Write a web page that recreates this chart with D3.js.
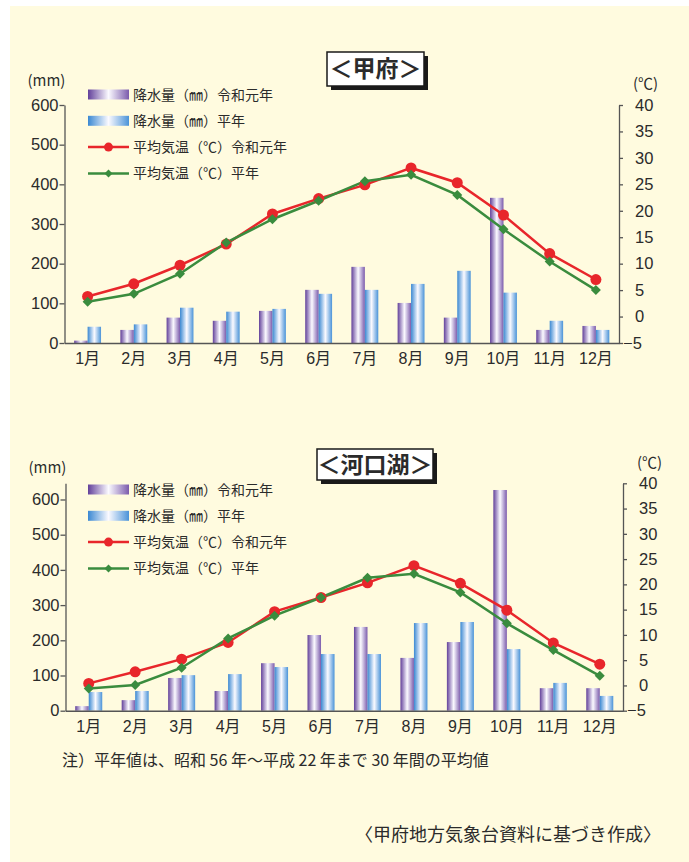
<!DOCTYPE html>
<html>
<head>
<meta charset="utf-8">
<script src="https://cdn.jsdelivr.net/npm/d3@7"></script>
<style>
  body { margin: 0; background: #fff; }
  svg { display: block; }
  .tick text { font-family: "Liberation Sans", Arial, "Noto Sans CJK JP", sans-serif; fill: #2b2b2b; }
  .jp { font-family: "Noto Sans CJK JP", sans-serif; fill: #2b2b2b; }
</style>
</head>
<body>
<div id="chart"></div>
<script>
// months & legend
const months = ["1月", "2月", "3月", "4月", "5月", "6月", "7月", "8月", "9月", "10月", "11月", "12月"];
const legendLabels = ["降水量（㎜）令和元年", "降水量（㎜）平年", "平均気温（℃）令和元年", "平均気温（℃）平年"];

// 甲府
const kofuRain2019 = [6, 33, 64, 56, 81, 134, 192, 101, 64, 366, 33, 43];
const kofuRainNormal = [41, 47, 89, 79, 86, 124, 134, 149, 182, 127, 56, 33];
const kofuTemp2019 = [3.8, 6.2, 9.7, 13.7, 19.4, 22.3, 24.9, 28.1, 25.3, 19.2, 11.9, 7.0];
const kofuTempNormal = [2.8, 4.3, 8.1, 14.0, 18.4, 21.9, 25.6, 26.8, 23.0, 16.5, 10.4, 5.0];

// 河口湖
const kawaRain2019 = [13, 30, 93, 56, 135, 215, 238, 150, 195, 627, 64, 64];
const kawaRainNormal = [53, 56, 101, 104, 124, 161, 161, 249, 252, 175, 79, 42];
const kawaTemp2019 = [0.4, 2.7, 5.2, 8.5, 14.6, 17.4, 20.3, 23.7, 20.2, 14.9, 8.4, 4.2];
const kawaTempNormal = [-0.6, 0.1, 3.5, 9.3, 13.8, 17.4, 21.3, 22.1, 18.4, 12.3, 7.0, 1.9];

// ticks
const rainTicks = [0, 100, 200, 300, 400, 500, 600];
const tempTicks = [-5, 0, 5, 10, 15, 20, 25, 30, 35, 40];

const noteText = "注）平年値は、昭和 56 年～平成 22 年まで 30 年間の平均値";
const sourceText = "〈甲府地方気象台資料に基づき作成〉";

const width = 689, height = 862;
const red = "#e8262b", green = "#3a8c3e";

const svg = d3.select("#chart")
  .append("svg")
  .attr("width", width)
  .attr("height", height)
  .attr("viewBox", [0, 0, width, height]);

svg.append("rect")
  .attr("x", 10).attr("y", 6)
  .attr("width", width - 10).attr("height", height - 6)
  .attr("fill", "#fffbdf");

// gradients for the bars
const defs = svg.append("defs");
function grad(id, c1, c2) {
  const g = defs.append("linearGradient").attr("id", id)
    .attr("x1", "0%").attr("x2", "100%").attr("y1", "0%").attr("y2", "0%");
  g.append("stop").attr("offset", "0%").attr("stop-color", c1);
  g.append("stop").attr("offset", "50%").attr("stop-color", "#fbfaff");
  g.append("stop").attr("offset", "100%").attr("stop-color", c2);
}
grad("purple", "#62409a", "#7b5bac");
grad("blue", "#3a88d2", "#4a93d8");

function diamond(sel, cx, cy, r) {
  sel.append("path")
    .attr("d", `M${cx},${cy - r}L${cx + r},${cy}L${cx},${cy + r}L${cx - r},${cy}Z`)
    .attr("fill", green);
}

function drawChart(cfg) {
  const g = svg.append("g");

  let x = d3.scaleBand()
    .domain(months)
    .range([cfg.left, cfg.right]);

  let xSub = d3.scaleBand()
    .domain(["r", "n"])
    .range([0, x.bandwidth()])
    .paddingOuter(0.72);

  let yRain = d3.scaleLinear()
    .domain([0, cfg.rainMax])
    .range([cfg.bottom, cfg.top]);

  let yTemp = d3.scaleLinear()
    .domain([-5, 40])
    .range([cfg.bottom, cfg.top]);

  // title box
  g.append("rect")
    .attr("x", cfg.titleX - cfg.titleW / 2 + 4).attr("y", cfg.titleY - cfg.titleH / 2 + 4)
    .attr("width", cfg.titleW).attr("height", cfg.titleH)
    .attr("fill", "#1a1a1a");
  g.append("rect")
    .attr("x", cfg.titleX - cfg.titleW / 2).attr("y", cfg.titleY - cfg.titleH / 2)
    .attr("width", cfg.titleW).attr("height", cfg.titleH)
    .attr("fill", "#fff").attr("stroke", "#1a1a1a").attr("stroke-width", 1.5);
  g.append("text")
    .attr("class", "jp")
    .attr("x", cfg.titleX).attr("y", cfg.titleY)
    .attr("dy", "0.36em")
    .attr("text-anchor", "middle")
    .attr("font-size", 23).attr("font-weight", 700)
    .text(cfg.title);

  // bars
  const rows = months.map((m, i) => ({ m, r: cfg.rain[i], n: cfg.rainNormal[i] }));
  g.append("g")
    .selectAll("rect.r")
    .data(rows)
    .join("rect")
    .attr("x", d => x(d.m) + xSub("r"))
    .attr("y", d => yRain(d.r))
    .attr("width", xSub.bandwidth())
    .attr("height", d => yRain(0) - yRain(d.r))
    .attr("fill", "url(#purple)");
  g.append("g")
    .selectAll("rect.n")
    .data(rows)
    .join("rect")
    .attr("x", d => x(d.m) + xSub("n"))
    .attr("y", d => yRain(d.n))
    .attr("width", xSub.bandwidth())
    .attr("height", d => yRain(0) - yRain(d.n))
    .attr("fill", "url(#blue)");

  // left axis
  const la = g.append("g")
    .attr("transform", `translate(${cfg.left},0)`)
    .call(d3.axisLeft(yRain).tickValues(rainTicks).tickSize(5).tickSizeOuter(0).tickPadding(1));
  la.selectAll("text").attr("font-size", 16.5);

  // right axis
  const ra = g.append("g")
    .attr("transform", `translate(${cfg.right},0)`)
    .call(d3.axisRight(yTemp).tickValues(tempTicks).tickSize(4).tickSizeOuter(0).tickPadding(12));
  ra.selectAll("text").attr("font-size", 16.5)
    .attr("x", d => d < 0 ? 4 : 16);

  [la, ra].forEach(a => {
    a.select(".domain").attr("stroke", "#555").attr("stroke-width", 1.3);
    a.selectAll(".tick line").attr("stroke", "#555").attr("stroke-width", 1.3);
  });

  // month axis
  const xa = g.append("g")
    .attr("transform", `translate(0,${cfg.bottom})`)
    .call(d3.axisBottom(x).tickSize(0).tickPadding(10));
  xa.select(".domain").attr("stroke", "#555").attr("stroke-width", 1.5);
  xa.selectAll("text").attr("font-size", 16);

  // unit labels
  g.append("text").attr("class", "jp")
    .attr("x", cfg.left - 37).attr("y", cfg.mmY)
    .attr("font-size", 15)
    .attr("font-family", "Liberation Sans, Arial, sans-serif")
    .text("(mm)");
  g.append("text").attr("class", "jp")
    .attr("x", cfg.right + 14).attr("y", cfg.degY)
    .attr("font-size", 15)
    .text("(℃)");

  // temperature lines
  const line = d3.line()
    .x((d, i) => x(months[i]) + x.bandwidth() / 2)
    .y(d => yTemp(d));

  g.append("path")
    .datum(cfg.temp)
    .attr("fill", "none").attr("stroke", red).attr("stroke-width", 2.5)
    .attr("d", line);
  g.append("path")
    .datum(cfg.tempNormal)
    .attr("fill", "none").attr("stroke", green).attr("stroke-width", 2.5)
    .attr("d", line);

  g.append("g")
    .attr("fill", red)
    .selectAll("circle")
    .data(cfg.temp)
    .join("circle")
    .attr("cx", (d, i) => x(months[i]) + x.bandwidth() / 2)
    .attr("cy", d => yTemp(d))
    .attr("r", 5.5);

  const dg = g.append("g");
  cfg.tempNormal.forEach((d, i) => diamond(dg, x(months[i]) + x.bandwidth() / 2, yTemp(d), 5));

  // legend
  const lg = g.append("g").attr("transform", `translate(88,${cfg.legendY})`);
  legendLabels.forEach((lab, i) => {
    const yy = i * 26.3;
    if (i === 0 || i === 1) {
      lg.append("rect")
        .attr("x", 0).attr("y", yy - 5)
        .attr("width", 41).attr("height", 10)
        .attr("fill", i === 0 ? "url(#purple)" : "url(#blue)");
    } else {
      const c = i === 2 ? red : green;
      lg.append("line")
        .attr("x1", 0).attr("x2", 41).attr("y1", yy).attr("y2", yy)
        .attr("stroke", c).attr("stroke-width", 2.5);
      if (i === 2) {
        lg.append("circle").attr("cx", 20.5).attr("cy", yy).attr("r", 4.5).attr("fill", red);
      } else {
        diamond(lg, 20.5, yy, 4);
      }
    }
    lg.append("text")
      .attr("class", "jp")
      .attr("x", 45).attr("y", yy)
      .attr("dy", "0.36em")
      .attr("font-size", 14)
      .text(lab);
  });
}

drawChart({
  title: "＜甲府＞", titleX: 375.5, titleY: 69, titleW: 97, titleH: 34,
  left: 64.5, right: 619, top: 105, bottom: 343, rainMax: 600,
  mmY: 86, degY: 89, legendY: 94.5,
  rain: kofuRain2019, rainNormal: kofuRainNormal,
  temp: kofuTemp2019, tempNormal: kofuTempNormal
});

drawChart({
  title: "＜河口湖＞", titleX: 375, titleY: 464.5, titleW: 116, titleH: 31,
  left: 65.5, right: 623, top: 483.3, bottom: 710.7, rainMax: 646,
  mmY: 473, degY: 468, legendY: 489.5,
  rain: kawaRain2019, rainNormal: kawaRainNormal,
  temp: kawaTemp2019, tempNormal: kawaTempNormal
});

// notes
svg.append("text").attr("class", "jp")
  .attr("x", 62).attr("y", 766)
  .attr("font-size", 16)
  .text(noteText);

svg.append("text").attr("class", "jp")
  .attr("x", 661).attr("y", 841)
  .attr("text-anchor", "end")
  .attr("font-size", 18)
  .text(sourceText);
</script>
</body>
</html>
